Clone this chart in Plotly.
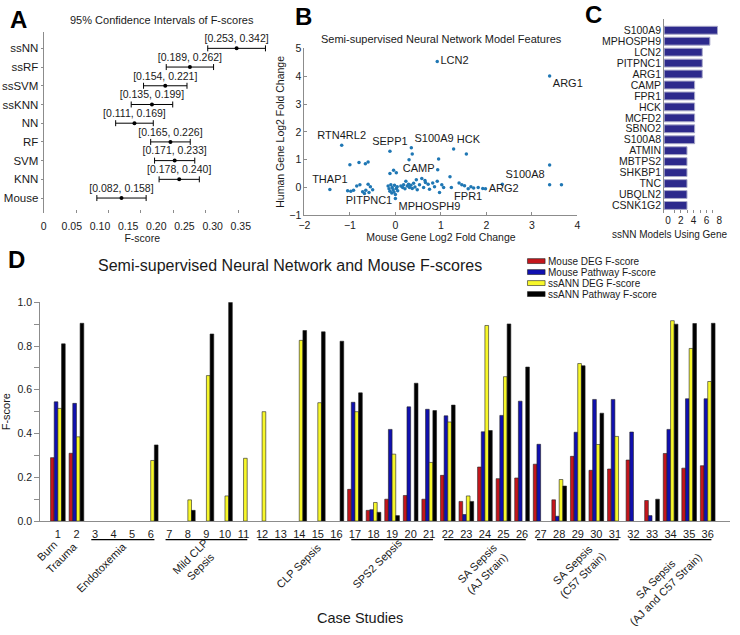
import plotly.graph_objects as go

W, H = 740, 635
FONT = "Arial, Liberation Sans, sans-serif"
GREY = "#8c8c8c"
INK = "#1a1a1a"

# ---- panel A: 95% confidence intervals of F-scores
models = ["ssNN", "ssRF", "ssSVM", "ssKNN", "NN", "RF", "SVM", "KNN", "Mouse"]
ci_low = [0.253, 0.189, 0.154, 0.135, 0.111, 0.165, 0.171, 0.178, 0.082]
ci_high = [0.342, 0.262, 0.221, 0.199, 0.169, 0.226, 0.233, 0.240, 0.158]
f_mean = [0.2975, 0.2255, 0.1875, 0.167, 0.140, 0.1955, 0.202, 0.209, 0.120]
a_ticks = [0, 0.05, 0.10, 0.15, 0.20, 0.25, 0.30, 0.35]
a_ticktext = ["0", "0.05", "0.10", "0.15", "0.20", "0.25", "0.30", "0.35"]

# ---- panel B: fold changes of the ssNN model genes
label_genes = ["LCN2", "ARG1", "RTN4RL2", "SEPP1", "S100A9", "HCK", "CAMP",
               "THAP1", "PITPNC1", "MPHOSPH9", "FPR1", "ARG2", "S100A8"]
label_mouse_fc = [0.92, 3.39, -1.18, -0.12, 0.35, 1.28, 0.93,
                  -1.44, -0.58, 0.00, 1.60, 1.98, 2.35]
label_human_fc = [4.53, 4.01, 1.52, 1.30, 1.43, 1.38, 0.64,
                  -0.07, -0.18, -0.40, -0.05, -0.05, 0.12]
label_side = ["middle right", "bottom right", "top center", "top center", "top right",
              "top right", "middle left", "top center", "bottom center", "bottom right",
              "bottom center", "middle right", "top right"]
other_mouse_fc = [3.39, 3.39, 3.65, 1.56, 0.37, 0.95, 0.30, -1.00, -0.80, -0.66, -0.60,
                  -0.12, -0.04, 0.02, 1.20, 0.65,
                  -1.05, -0.98, -0.92, -0.85, -0.78, -0.72, -0.68, -0.65, -0.60, -0.55, -0.50,
                  -0.16, -0.14, -0.12, -0.10, -0.08, -0.07, -0.05, -0.03, -0.02, 0.00, 0.02, 0.04, 0.05,
                  0.12, 0.16, 0.18, 0.21, 0.23, 0.26, 0.29, 0.31, 0.34, 0.37, 0.40, 0.43, 0.46, 0.48,
                  0.53, 0.58, 0.62, 0.66, 0.72, 0.75, 0.82, 0.86, 0.92, 0.97, 1.02, 1.06,
                  1.23, 1.40, 1.46, 1.52, 1.66, 1.72, 1.82, 1.92]
other_human_fc = [0.81, 0.10, 0.10, 1.20, 1.20, 1.02, 1.00, 0.82, 0.90, 0.85, 0.92,
                  0.50, 0.62, 0.53, 0.39, 0.25,
                  -0.12, -0.14, -0.10, 0.05, 0.10, -0.15, -0.22, -0.10, 0.12, 0.03, -0.08,
                  0.05, -0.05, -0.14, 0.10, -0.20, 0.00, -0.08, -0.16, 0.08, -0.25, -0.04, 0.03, -0.12,
                  0.05, 0.00, 0.10, -0.05, 0.22, 0.05, 0.12, 0.00, 0.08, -0.04, 0.15, 0.02, 0.28, -0.08,
                  0.10, 0.32, 0.00, 0.18, 0.12, -0.06, 0.16, 0.03, 0.22, -0.18, 0.10, 0.00,
                  0.00, 0.16, 0.10, 0.06, 0.03, -0.02, 0.00, -0.04]

# ---- panel C: number of ssNN models using each gene
c_genes = ["S100A9", "MPHOSPH9", "LCN2", "PITPNC1", "ARG1", "CAMP", "FPR1", "HCK", "MCFD2",
           "SBNO2", "S100A8", "ATMIN", "MBTPS2", "SHKBP1", "TNC", "UBQLN2", "CSNK1G2"]
c_counts = [7, 6, 5, 5, 5, 4, 4, 4, 4, 4, 4, 3, 3, 3, 3, 3, 3]
c_ticks = [0, 2, 4, 6, 8]

# ---- panel D: F-scores per case study
cases = list(range(1, 37))
N = None
mouse_deg = [0.29, 0.31, N, N, N, N, N, N, N, N, N, N, N, N, N, N,
             0.145, 0.049, 0.10, 0.117, 0.10, 0.209, 0.09, 0.247, 0.194, 0.197,
             0.26, 0.097, 0.296, 0.232, 0.238, 0.279, 0.094, 0.309, 0.242, 0.253]
mouse_path = [0.545, 0.538, N, N, N, N, N, N, N, N, N, N, N, N, N, N,
              0.543, 0.052, 0.419, 0.522, 0.511, 0.481, 0.03, 0.408, 0.483, 0.548,
              0.351, 0.022, 0.406, 0.556, 0.556, 0.407, 0.025, 0.419, 0.559, 0.559]
ssann_deg = [0.515, 0.385, N, N, N, 0.277, N, 0.097, 0.665, 0.115, 0.287, 0.50, N, 0.826, 0.541, N,
             0.50, 0.085, 0.306, N, 0.268, 0.453, 0.115, 0.894, 0.66, N,
             N, 0.19, 0.72, 0.35, 0.387, N, N, 0.916, 0.789, 0.638]
ssann_path = [0.81, 0.904, N, N, N, 0.348, N, 0.049, 0.855, 1.0, N, N, N, 0.871, 0.865, 0.822,
              0.586, 0.04, 0.025, 0.63, 0.505, 0.53, 0.09, 0.414, 0.901, 0.704,
              N, 0.16, 0.71, 0.493, N, N, 0.10, 0.90, 0.903, 0.904]
d_series = ["Mouse DEG F-score", "Mouse Pathway F-score", "ssANN DEG F-score", "ssANN Pathway F-score"]
d_colors = ["#c4161c", "#1010b0", "#f7f72a", "#000000"]

single_names = ["Burn", "Trauma"]
group_names = ["Endotoxemia", "Mild CLP<br>Sepsis", "CLP Sepsis", "SPS2 Sepsis",
               "SA Sepsis<br>(AJ Strain)", "SA Sepsis<br>(C57 Strain)", "SA Sepsis<br>(AJ and C57 Strain)"]
group_start = [3, 7, 12, 17, 22, 27, 32]
group_end = [6, 11, 16, 21, 26, 31, 36]
# label centres in pixels (Burn, Trauma, then the groups)
label_px = [(42, 556), (57, 563), (98, 572), (194, 566), (299, 571), (380, 568),
            (487, 573), (584, 575), (669, 589)]


def px(x):
    return x / W


def py(y):
    return 1 - y / H


fig = go.Figure()

# A
fig.add_trace(go.Scatter(
    x=f_mean, y=list(range(len(models), 0, -1)), mode="markers+text",
    text=[f"[{lo:.3f}, {hi:.3f}]" for lo, hi in zip(ci_low, ci_high)],
    textposition="top center", textfont=dict(size=10.5, color=INK),
    marker=dict(color="black", size=4),
    error_x=dict(type="data", symmetric=False,
                 array=[h - m for h, m in zip(ci_high, f_mean)],
                 arrayminus=[m - l for m, l in zip(f_mean, ci_low)],
                 color="black", thickness=1, width=3),
    cliponaxis=False, showlegend=False, xaxis="x", yaxis="y"))

# B
fig.add_trace(go.Scatter(x=other_mouse_fc, y=other_human_fc, mode="markers",
                         marker=dict(color="#1f77b4", size=3.5), showlegend=False,
                         xaxis="x3", yaxis="y3"))
fig.add_trace(go.Scatter(x=label_mouse_fc, y=label_human_fc, mode="markers+text",
                         text=label_genes, textposition=label_side,
                         textfont=dict(size=11, color=INK),
                         marker=dict(color="#1f77b4", size=3.5), cliponaxis=False,
                         showlegend=False, xaxis="x3", yaxis="y3"))

# C
fig.add_trace(go.Bar(x=c_counts, y=c_genes, orientation="h", width=0.72,
                     marker=dict(color="#2d2a8c", line=dict(color="#a9a9c9", width=1)),
                     showlegend=False, xaxis="x4", yaxis="y4"))

# D
for name, vals, col in zip(d_series, [mouse_deg, mouse_path, ssann_deg, ssann_path], d_colors):
    fig.add_trace(go.Bar(x=cases, y=vals, name=name,
                         marker=dict(color=col, line=dict(color="#222", width=0.6)),
                         showlegend=False, xaxis="x5", yaxis="y5"))

# the tick labels of A and C sit on their own (label only) axes
fig.add_trace(go.Scatter(x=[None], y=[None], showlegend=False, hoverinfo="skip",
                         xaxis="x2", yaxis="y"))
fig.add_trace(go.Scatter(x=[None], y=[None], showlegend=False, hoverinfo="skip",
                         xaxis="x6", yaxis="y4"))

ax = dict(showgrid=False, zeroline=False, linecolor=GREY, tickcolor=GREY,
          tickfont=dict(size=10.5, color=INK))

annotations = []
for txt, x, y in [("A", 13, 14), ("B", 304, 11), ("C", 600, 9), ("D", 11, 258)]:
    annotations.append(dict(text=f"<b>{txt}</b>", x=px(x), y=py(y), xref="paper", yref="paper",
                            showarrow=False, font=dict(size=24, color="black"),
                            xanchor="center", yanchor="middle"))
for txt, x, y, s, xa in [("95% Confidence Intervals of F-scores", 159, 14, 11, "center"),
                         ("Semi-supervised Neural Network Model Features", 445, 34, 11, "center"),
                         ("ssNN Models Using Gene", 739, 233, 10, "right"),
                         ("Semi-supervised Neural Network and Mouse F-scores", 290, 264, 16, "center"),
                         ("Case Studies", 362, 624, 14.5, "center")]:
    annotations.append(dict(text=txt, x=px(x), y=py(y), xref="paper", yref="paper",
                            showarrow=False, font=dict(size=s, color=INK),
                            xanchor=xa, yanchor="middle"))
for txt, (x, y) in zip(single_names + group_names, label_px):
    annotations.append(dict(text=txt, x=px(x), y=py(y), xref="paper", yref="paper",
                            showarrow=False, textangle=-45, font=dict(size=11, color=INK),
                            xanchor="center", yanchor="middle"))

shapes = []
for s, e in zip(group_start, group_end):
    shapes.append(dict(type="line", xref="x5", yref="paper", x0=s - 0.2, x1=e + 0.2,
                       y0=py(544), y1=py(544), line=dict(color="black", width=1.2)))

# legend of panel D
for i, (name, col) in enumerate(zip(d_series, d_colors)):
    yc = 260 + 11.2 * i
    shapes.append(dict(type="rect", xref="paper", yref="paper", x0=px(533), x1=px(551),
                       y0=py(yc + 2.5), y1=py(yc - 2.5), fillcolor=col,
                       line=dict(color="#222", width=0.6)))
    annotations.append(dict(text=name, x=px(552), y=py(yc), xref="paper", yref="paper",
                            showarrow=False, font=dict(size=10, color=INK),
                            xanchor="left", yanchor="middle", height=11))

no_marks = dict(showgrid=False, zeroline=False, showline=False)

fig.update_layout(
    width=W, height=H, margin=dict(l=0, r=0, t=0, b=0),
    paper_bgcolor="white", plot_bgcolor="rgba(0,0,0,0)",
    font=dict(family=FONT, color=INK),
    barmode="group", bargap=0.21, bargroupgap=0,
    xaxis=dict(ax, type="linear", domain=[px(38.5), px(270.5)], range=[0, 0.35], anchor="y",
               tickvals=a_ticks, showticklabels=False, ticks="inside", ticklen=3, showline=False),
    xaxis2=dict(no_marks, type="linear", domain=[px(38.5), px(240)], range=[0, 0.35], anchor="y",
                tickvals=a_ticks, ticktext=a_ticktext, ticks="outside", ticklen=3,
                tickcolor="rgba(0,0,0,0)", tickfont=dict(size=10.5, color=INK),
                title=dict(text="F-score", font=dict(size=10.5), standoff=4)),
    yaxis=dict(ax, type="linear", domain=[py(211), py(26)], range=[0.2, 9.9], anchor="x",
               tickvals=list(range(len(models), 0, -1)), ticktext=models,
               ticks="outside", ticklen=2, showline=True, tickfont=dict(size=11.5, color=INK)),
    xaxis3=dict(ax, domain=[px(305), px(584)], range=[-2, 4], anchor="y3", dtick=1,
                ticks="inside", ticklen=3, showline=True,
                title=dict(text="Mouse Gene Log2 Fold Change", font=dict(size=10.5), standoff=2)),
    yaxis3=dict(ax, domain=[py(213.3), py(43.3)], range=[-1, 5], anchor="x3", dtick=1,
                ticks="inside", ticklen=3, showline=True,
                title=dict(text="Human Gene Log2 Fold Change", font=dict(size=10.5), standoff=2)),
    xaxis4=dict(no_marks, type="linear", domain=[px(672.7), px(735)], range=[0, 8], anchor="y4",
                showticklabels=False, ticks=""),
    xaxis6=dict(no_marks, type="linear", domain=[px(676.7), px(729)], range=[0, 8], anchor="y4",
                tickvals=c_ticks, ticks="inside", ticklen=3, tickcolor=GREY,
                minor=dict(dtick=1, ticks="inside", ticklen=3, tickcolor=GREY),
                tickfont=dict(size=10, color=INK)),
    yaxis4=dict(ax, type="category", domain=[py(211), py(13)], range=[16.69, -1.05], anchor="x4",
                categoryorder="array", categoryarray=c_genes,
                tickmode="array", tickvals=c_genes, ticktext=c_genes,
                ticks="", showline=True, tickfont=dict(size=10.5, color=INK)),
    xaxis5=dict(ax, domain=[px(35), 1], range=[0.05, 37.2], anchor="y5", tickvals=cases,
                ticks="outside", ticklen=3, tickcolor="rgba(0,0,0,0)", showline=True,
                tickfont=dict(size=11, color=INK)),
    yaxis5=dict(ax, domain=[py(525), py(302)], range=[0, 1], anchor="x5",
                tickvals=[0, 0.2, 0.4, 0.6, 0.8, 1.0], tickformat=".1f",
                ticks="outside", ticklen=5, showline=True,
                minor=dict(dtick=0.1, ticks="outside", ticklen=5, tickcolor=GREY),
                title=dict(text="F-score", font=dict(size=11), standoff=4)),
    annotations=annotations, shapes=shapes,
)

# the page's default body margin would push the figure 8px off the window
fig.write_html("out.html", config={"displayModeBar": False},
               post_script="document.body.style.margin='0';")
